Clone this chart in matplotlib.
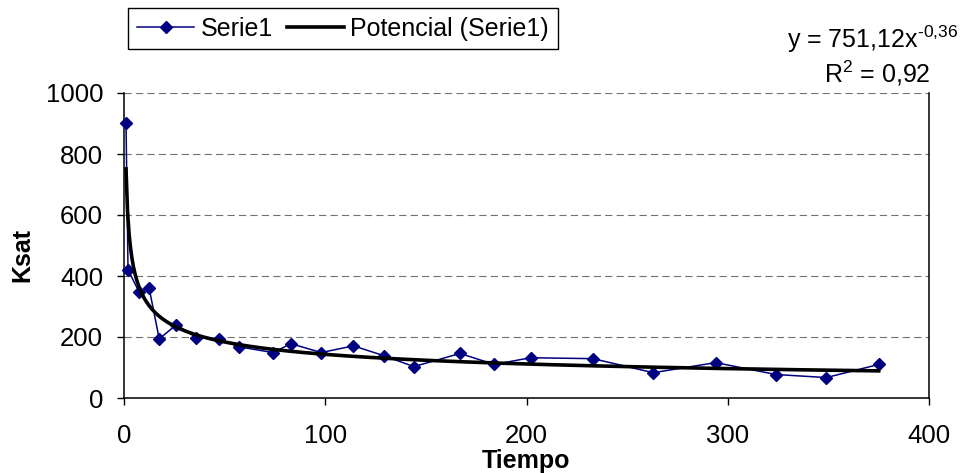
import numpy as np
import matplotlib
matplotlib.use("Agg")
import matplotlib.pyplot as plt

plt.rcParams["font.family"] = ["Liberation Sans", "DejaVu Sans"]
plt.rcParams["mathtext.fontset"] = "custom"
plt.rcParams["mathtext.rm"] = "Liberation Sans"
plt.rcParams["mathtext.it"] = "Liberation Sans"

# Ksat measurements over time
tiempo = [1, 2, 7.5, 12.5, 17.5, 26, 36, 47, 57, 74, 83, 98, 114, 129,
          144, 167, 184, 202, 233, 263, 294, 324, 349, 375]
ksat = [900, 420, 348, 360, 194, 240, 198, 195, 168, 149, 178, 149, 171, 139,
        103, 146, 110, 132, 129, 83, 116, 77, 67, 110]

# power trendline y = a * x^b
coef_a = 751.12
coef_b = -0.36
r2 = 0.92

x_fit = np.linspace(tiempo[0], tiempo[-1], 500)
y_fit = coef_a * x_fit ** coef_b


def coma(v):
    return f"{v:.2f}".replace(".", ",")


fig = plt.figure(figsize=(9.74, 4.73), dpi=100)
ax = fig.add_axes([124 / 974, 1 - 398 / 473, 805 / 974, 305 / 473])

ax.plot(tiempo, ksat, color="#000080", lw=1.1, marker="D", markersize=6.5,
        label="Serie1", clip_on=False, zorder=3)
ax.plot(x_fit, y_fit, color="black", lw=2.6, label="Potencial (Serie1)", zorder=4)

ax.set_xlim(0, 400)
ax.set_ylim(0, 1000)
ax.set_xticks(range(0, 401, 100))
ax.set_yticks(range(0, 1001, 200))
ax.tick_params(direction="out", length=5, width=1, labelsize=18.5)
ax.tick_params(axis="x", pad=14)
ax.tick_params(axis="y", pad=10)

ax.yaxis.grid(True, color="#707070", lw=0.8, linestyle=(0, (6.5, 3.8)))
ax.set_axisbelow(True)
ax.spines["top"].set_visible(False)
for side in ("left", "bottom", "right"):
    ax.spines[side].set_linewidth(1.1)

ax.set_xlabel("Tiempo", fontsize=18, fontweight="bold")
ax.xaxis.set_label_coords(0.5, (398 - 449) / 305)
ax.set_ylabel("Ksat", fontsize=18, fontweight="bold")
ax.yaxis.set_label_coords((34 - 124) / 805, (398 - 255) / 305)

leg = fig.legend(loc="upper left", bbox_to_anchor=(128 / 974, 1 - 8 / 473), ncol=2,
                 fontsize=18, frameon=True, fancybox=False, edgecolor="black",
                 framealpha=1, borderpad=0.35, handlelength=2.3, handletextpad=0.25,
                 columnspacing=0.55, borderaxespad=0)
leg.get_frame().set_linewidth(1)

fig.text(873 / 974, 1 - 48 / 473,
         "y = %sx$^{\\text{%s}}$" % (coma(coef_a), coma(coef_b)),
         ha="center", va="baseline", fontsize=18)
fig.text(877 / 974, 1 - 83 / 473,
         "R$^{\\text{2}}$ = %s" % coma(r2),
         ha="center", va="baseline", fontsize=18)

fig.savefig("out.png", dpi=100)
